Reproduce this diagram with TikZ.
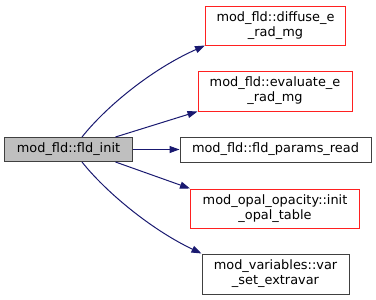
\documentclass[tikz,border=0pt]{standalone}
\usepackage{fontspec}
\setmainfont{DejaVu Sans}
\usetikzlibrary{arrows.meta}
\definecolor{edgeblue}{HTML}{191970}
\definecolor{boxred}{HTML}{FF2020}
\tikzset{fn/.style={draw=black!75,line width=1pt,inner sep=0pt,align=center,font=\fontsize{12.9}{15}\selectfont},
  fnred/.style={fn,draw=boxred},
  call/.style={draw=edgeblue,line width=1pt,-{Triangle[length=10pt,width=7pt]}}}

\begin{document}
\begin{tikzpicture}[x=1pt,y=-1pt]
\useasboundingbox (0,0) rectangle (376,300);
\node[fn,fill=black!25,minimum width=127pt,minimum height=24pt] (init) at (68.5,149.5) {mod\_fld::fld\_init};
\node[fnred,minimum width=140pt,minimum height=39pt] (diffuse) at (275.5,25.5) {mod\_fld::diffuse\_e\\\_rad\_mg};
\node[fnred,minimum width=154pt,minimum height=40pt] (evaluate) at (275,91) {mod\_fld::evaluate\_e\\\_rad\_mg};
\node[fn,minimum width=191pt,minimum height=25pt] (params) at (275.5,149.5) {mod\_fld::fld\_params\_read};
\node[fnred,minimum width=169pt,minimum height=39pt] (opal) at (275,208.5) {mod\_opal\_opacity::init\\\_opal\_table};
\node[fn,minimum width=147pt,minimum height=40pt] (extravar) at (275.5,274) {mod\_variables::var\\\_set\_extravar};
\draw[call] ([xshift=13.5pt]init.north) .. controls (105,108) and (150,70) .. (diffuse.south west);
\draw[call] ([xshift=-17pt]init.north east) -- (evaluate.south west);
\draw[call] (init.east) -- (params.west);
\draw[call] ([xshift=-17pt]init.south east) -- (opal.north west);
\draw[call] ([xshift=13.5pt]init.south) .. controls (105,191) and (150,229) .. (extravar.north west);
\end{tikzpicture}
\end{document}
